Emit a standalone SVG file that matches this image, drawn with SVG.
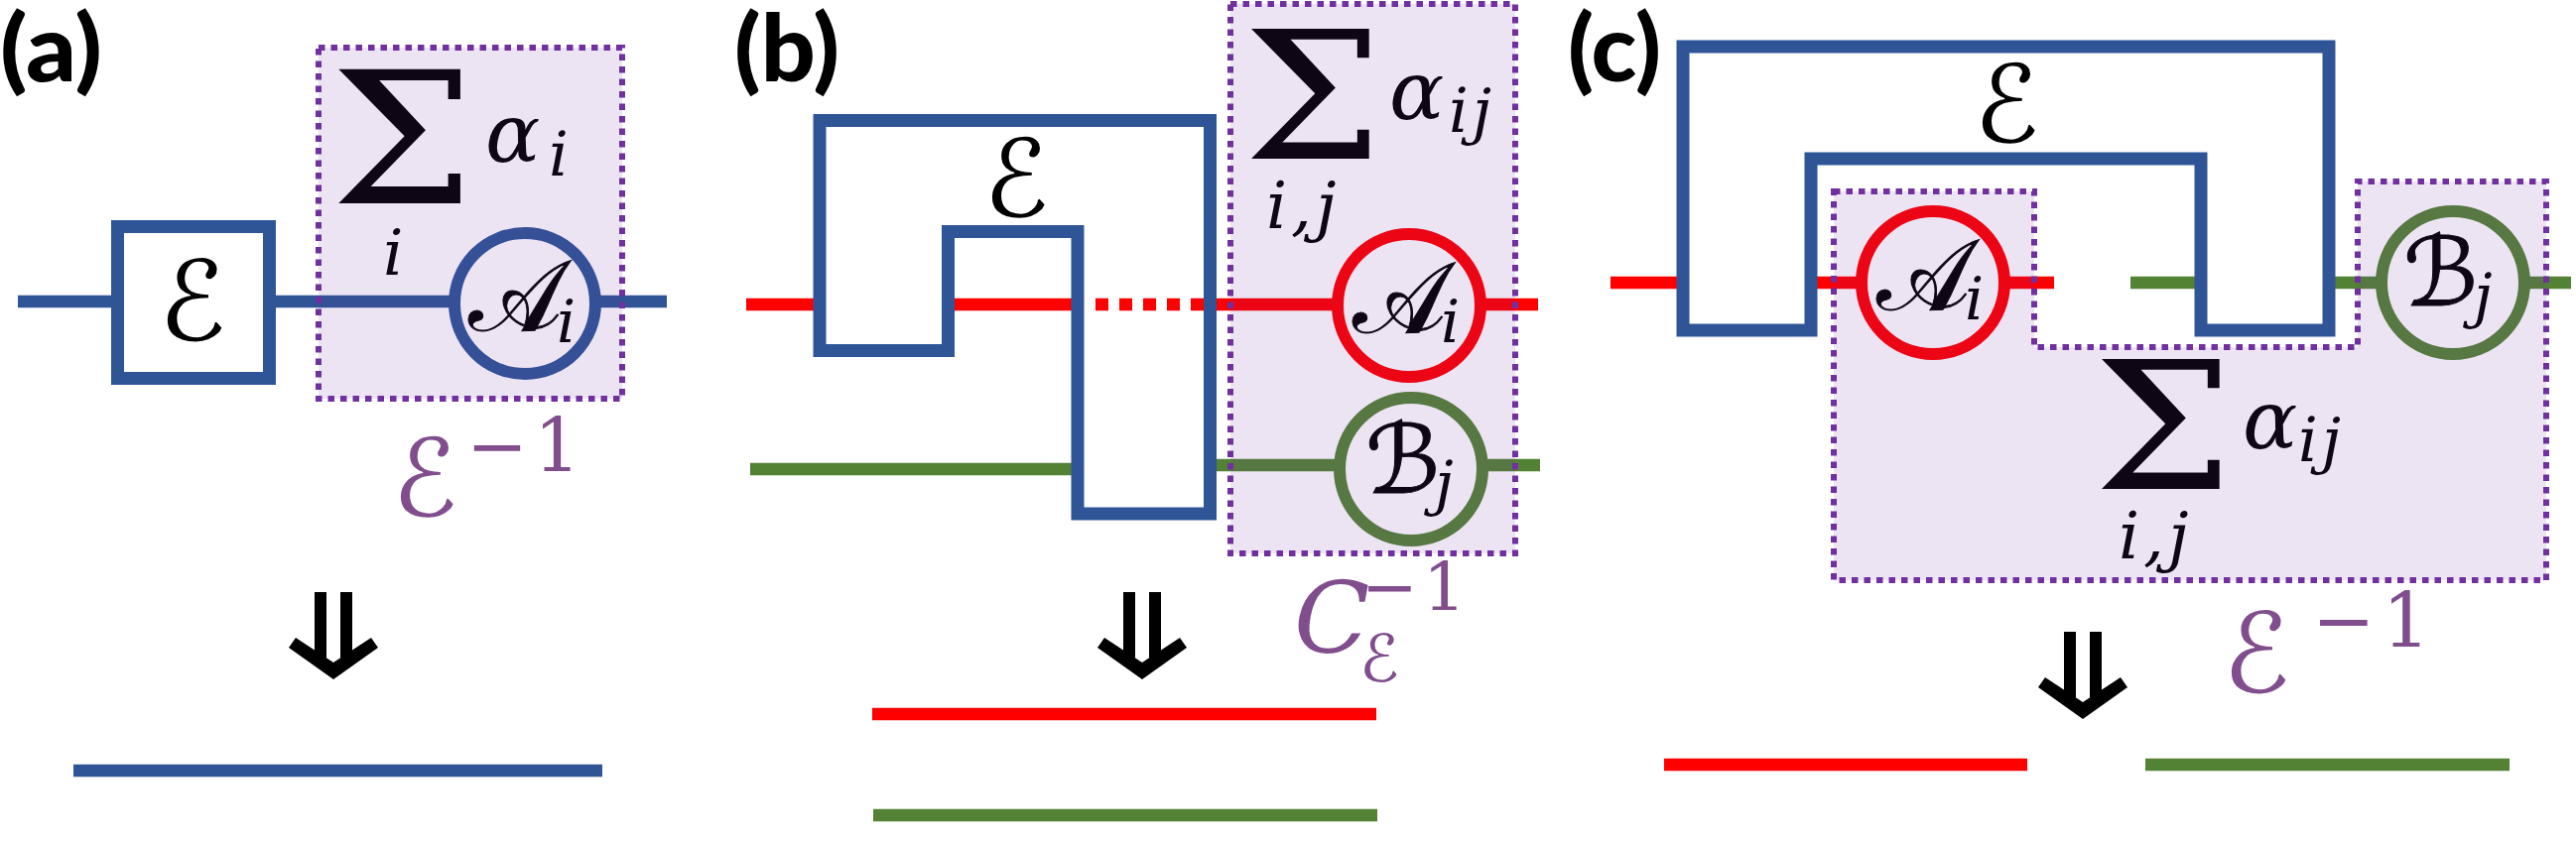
<svg xmlns="http://www.w3.org/2000/svg" width="2596" height="850" viewBox="0 0 2596 850">
<style>
.lbl{font-family:Lato,"Liberation Sans",sans-serif;font-weight:900;font-size:94px;fill:#000}
.wire{stroke-width:12.5;fill:none;stroke-linecap:butt}
.blue{stroke:#2F5597}
.red{stroke:#FF0000}
.green{stroke:#548235}
.chan{fill:none;stroke:#2F5597;stroke-width:13;stroke-linejoin:miter}
.gate{stroke-width:12;fill:#fff}
.ov{fill:#7030A0;fill-opacity:0.13;stroke:none}
.ovb{fill:none;stroke:#7030A0;stroke-width:6;stroke-dasharray:6.5 6}
.sig{font-family:"DejaVu Serif","Liberation Serif",serif;fill:#000}
.it{font-family:"DejaVu Serif","Liberation Serif",serif;font-style:italic;fill:#000}
.num{font-family:"DejaVu Serif","Liberation Serif",serif;fill:#000}
.scr{font-family:"DejaVu Serif","DejaVu Sans",serif;fill:#000}
.cal{font-family:"DejaVu Serif","DejaVu Sans",serif;fill:#000;stroke:#000;stroke-width:1}
.pur{fill:#804E8C}
.arr{fill:#000}
</style>
<defs>
<g id="dn">
<rect x="-19" y="0" width="12" height="66"/>
<rect x="7" y="0" width="12" height="66"/>
<polygon points="-45,56 -38,46 0,71 38,46 45,56 0,88"/>
</g>
</defs>

<text class="lbl" x="0" y="82" textLength="103" lengthAdjust="spacingAndGlyphs">(a)</text>
<text class="lbl" x="740" y="82" textLength="106" lengthAdjust="spacingAndGlyphs">(b)</text>
<text class="lbl" x="1580" y="82" textLength="94" lengthAdjust="spacingAndGlyphs">(c)</text>

<g id="connectors">
<!-- (a) -->
<line class="wire blue" x1="18" y1="304" x2="672" y2="304"/>
<line class="wire blue" x1="74" y1="777" x2="607" y2="777"/>
<!-- (b) -->
<line class="wire red" x1="752" y1="307" x2="826" y2="307"/>
<line class="wire red" x1="955" y1="307" x2="1086" y2="307"/>
<line class="wire red" x1="1104" y1="307" x2="1213" y2="307" stroke-dasharray="13 11"/>
<line class="wire red" x1="1219" y1="307" x2="1550" y2="307"/>
<line class="wire green" x1="756" y1="473" x2="1086" y2="473"/>
<line class="wire green" x1="1219" y1="469" x2="1552" y2="469"/>
<line class="wire red" x1="879" y1="720" x2="1387" y2="720"/>
<line class="wire green" x1="880" y1="822" x2="1388" y2="822"/>
<!-- (c) -->
<line class="wire red" x1="1623" y1="285" x2="1696" y2="285"/>
<line class="wire red" x1="1825" y1="285" x2="2070" y2="285"/>
<line class="wire green" x1="2147" y1="285" x2="2218" y2="285"/>
<line class="wire green" x1="2347" y1="285" x2="2591" y2="285"/>
<line class="wire red" x1="1677" y1="771" x2="2043" y2="771"/>
<line class="wire green" x1="2162" y1="771" x2="2529" y2="771"/>
</g>

<g id="channel-a">
<rect x="118.5" y="228.5" width="153" height="153" fill="#fff" stroke="#2F5597" stroke-width="13"/>
<text class="scr" x="194" y="343" font-size="112" text-anchor="middle">ℰ</text>
</g>
<g id="channel-b">
<path class="chan" d="M826,353.5 V121.5 H1219.5 V518 H1086 V233.5 H955.5 V353.5 Z"/>
<text class="scr" x="1024" y="218" font-size="108" text-anchor="middle">ℰ</text>
</g>
<g id="channel-c">
<path class="chan" d="M1696,333 V47 H2347 V333 H2218 V160 H1825 V333 Z"/>
<text class="scr" x="2022" y="143" font-size="108" text-anchor="middle">ℰ</text>
</g>

<g id="gate-a-Ai">
<circle class="gate" cx="529" cy="306" r="71" stroke="#2F5597"/>
<text class="cal" x="472" y="333" font-size="100">𝒜</text>
<text class="it" x="561" y="345" font-size="60">i</text>
</g>
<g id="gate-b-Ai">
<circle class="gate" cx="1420" cy="308" r="72" stroke="#FF0000"/>
<text class="cal" x="1363" y="335" font-size="100">𝒜</text>
<text class="it" x="1452" y="345" font-size="60">i</text>
</g>
<g id="gate-b-Bj">
<circle class="gate" cx="1422" cy="473" r="72" stroke="#548235"/>
<text class="cal" x="1376" y="497" font-size="96">ℬ</text>
<text class="it" x="1446" y="508" font-size="60">j</text>
</g>
<g id="gate-c-Ai">
<circle class="gate" cx="1948" cy="285" r="72" stroke="#FF0000"/>
<text class="cal" x="1891" y="312" font-size="100">𝒜</text>
<text class="it" x="1980" y="322" font-size="60">i</text>
</g>
<g id="gate-c-Bj">
<circle class="gate" cx="2472" cy="285" r="72" stroke="#548235"/>
<text class="cal" x="2422" y="308" font-size="96">ℬ</text>
<text class="it" x="2493" y="319" font-size="60">j</text>
</g>

<g id="sum-a">
<text class="sig" transform="translate(333,205) scale(1.1,1)" font-size="186">Σ</text>
<text class="it" x="489" y="163" font-size="82">α</text>
<text class="it" x="553" y="177" font-size="62">i</text>
<text class="it" x="386" y="277" font-size="64">i</text>
</g>
<g id="sum-b">
<text class="sig" transform="translate(1253,160) scale(1.1,1)" font-size="180">Σ</text>
<text class="it" x="1400" y="120" font-size="82">α</text>
<text class="it" x="1460" y="133" font-size="62" letter-spacing="4">ij</text>
<text class="it" x="1276" y="230" font-size="66" letter-spacing="4">i,j</text>
</g>
<g id="sum-c">
<text class="sig" transform="translate(2110,493) scale(1.1,1)" font-size="180">Σ</text>
<text class="it" x="2260" y="452" font-size="82">α</text>
<text class="it" x="2316" y="465" font-size="62" letter-spacing="4">ij</text>
<text class="it" x="2135" y="563" font-size="66" letter-spacing="4">i,j</text>
</g>

<g id="region-a">
<rect class="ov" x="321" y="48" width="306" height="354"/>
<rect class="ovb" x="321" y="48" width="306" height="354"/>
</g>
<g id="region-b">
<rect class="ov" x="1240" y="4" width="287" height="554"/>
<rect class="ovb" x="1240" y="4" width="287" height="554"/>
</g>
<g id="region-c">
<path class="ov" d="M1848,193 H2050 V350 H2376 V183 H2566 V585 H1848 Z"/>
<path class="ovb" d="M1848,193 H2050 V350 H2376 V183 H2566 V585 H1848 Z"/>
</g>

<g id="label-a">
<text class="scr pur" x="428" y="520" font-size="108" text-anchor="middle">ℰ</text>
<text class="num pur" x="470" y="475" font-size="74" letter-spacing="6">−1</text>
</g>
<g id="label-b">
<text class="it pur" x="1304" y="658" font-size="100">C</text>
<text class="scr pur" x="1390" y="687" font-size="66" text-anchor="middle">ℰ</text>
<text class="num pur" x="1372" y="615" font-size="68" letter-spacing="5">−1</text>
</g>
<g id="label-c">
<text class="scr pur" x="2274" y="698" font-size="112" text-anchor="middle">ℰ</text>
<text class="num pur" x="2330" y="652" font-size="76" letter-spacing="7">−1</text>
</g>

<g id="arrows" class="arr">
<use href="#dn" transform="translate(336,597)"/>
<use href="#dn" transform="translate(1151,597)"/>
<use href="#dn" transform="translate(2099,637)"/>
</g>
</svg>
